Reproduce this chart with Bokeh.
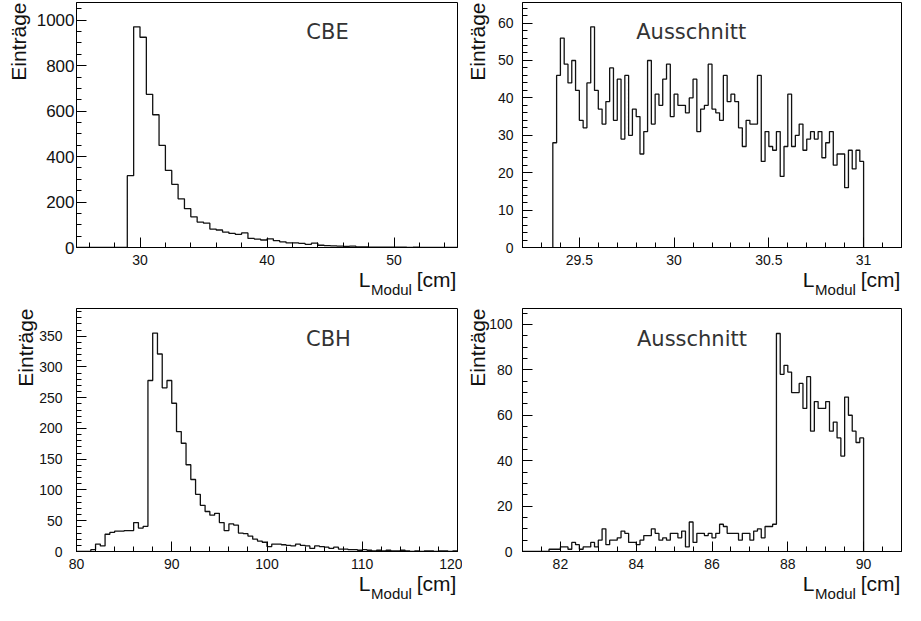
import numpy as np
from math import pi
from bokeh.plotting import figure
from bokeh.layouts import row, column
from bokeh.models import Label, SingleIntervalTicker, FixedTicker, Range1d, LinearAxis
from bokeh.embed import file_html
from bokeh.resources import INLINE

# ---------------- data ----------------
# CBE full distribution (bins of 0.5 cm starting at 25 cm)
cbe_start, cbe_width = 25.0, 0.5
cbe_counts = [0, 0, 0, 0, 0, 0, 0, 0,
              316, 971, 925, 674, 584, 449, 339, 278, 214, 171,
              135, 112, 107, 81, 77, 68, 62, 58, 64, 40,
              37, 33, 38, 30, 25, 20, 20, 18, 14, 19,
              10, 8, 7, 6, 5, 6, 3, 3, 2, 2,
              1, 1, 1, 1, 0, 1, 0, 0, 0, 0, 0, 0]

# CBE zoom (bins of 0.02 cm starting at 29.36 cm)
cbez_start, cbez_width = 29.36, 0.02
cbez_counts = [28, 46, 56, 49, 44, 50, 42, 34, 32, 44,
               59, 42, 37, 33, 39, 48, 34, 45, 29, 46,
               30, 37, 35, 25, 31, 50, 33, 41, 38, 45,
               49, 35, 41, 38, 38, 36, 40, 45, 31, 37,
               38, 49, 37, 36, 34, 46, 39, 41, 39, 32,
               27, 34, 33, 33, 46, 23, 31, 27, 26, 31,
               19, 27, 41, 27, 30, 33, 26, 29, 31, 29,
               31, 24, 28, 31, 22, 25, 25, 16, 26, 21,
               26, 23]

# CBH full distribution (bins of 0.5 cm starting at 80 cm)
cbh_start, cbh_width = 80.0, 0.5
cbh_counts = [0, 0, 0, 3, 12, 9, 28, 31, 33, 33,
              34, 34, 47, 38, 41, 278, 355, 321, 266, 278,
              241, 195, 176, 141, 117, 93, 75, 65, 59, 62,
              47, 34, 45, 43, 30, 29, 25, 20, 17, 15,
              8, 12, 12, 11, 10, 9, 12, 10, 9, 5,
              9, 8, 7, 5, 7, 4, 4, 3, 3, 2,
              3, 2, 1, 2, 1, 2, 1, 1, 2, 1,
              0, 1, 0, 1, 1, 0, 1, 1, 0, 1]

# CBH zoom (bins of 0.1 cm starting at 81 cm)
cbhz_start, cbhz_width = 81.0, 0.1
cbhz_counts = [0, 0, 0, 0, 0, 0, 0, 1, 1, 1,
               2, 2, 1, 4, 3, 1, 2, 2, 4, 2,
               5, 10, 3, 5, 5, 6, 9, 8, 4, 4,
               3, 5, 7, 7, 10, 8, 5, 6, 5, 8,
               8, 6, 9, 2, 13, 4, 8, 8, 7, 8,
               6, 8, 12, 11, 8, 8, 8, 5, 8, 8,
               5, 9, 10, 6, 11, 11, 12, 96, 78, 82,
               79, 70, 70, 74, 63, 77, 53, 66, 63, 63,
               66, 53, 57, 50, 42, 68, 60, 53, 48, 50]

panel_titles = ["CBE", "Ausschnitt", "CBH", "Ausschnitt"]
y_title = "Einträge"
x_title_main, x_title_sub, x_title_unit = "L", "Modul", "[cm]"

TICK_FONT = "Liberation Sans"
TITLE_FONT = "DejaVu Sans"


def label_axis(p, ticks, texts, size, standoff):
    """An extra tick-less axis below the frame that only carries text pieces."""
    ax = LinearAxis(ticker=FixedTicker(ticks=ticks, minor_ticks=[]),
                    major_label_overrides=dict(zip(ticks, texts)))
    ax.axis_line_color = None
    ax.major_tick_line_color = None
    ax.minor_tick_line_color = None
    ax.major_tick_out = 0
    ax.major_tick_in = 0
    ax.major_label_standoff = standoff
    ax.major_label_text_font = TICK_FONT
    ax.major_label_text_font_size = size
    ax.major_label_text_color = "#111111"
    p.add_layout(ax, "below")


def make_panel(start, width, counts, xr, yr, xint, xminor, yint, yminor,
               title, title_xy, w, h, bl, br, bt, bb, ylab_off,
               ytick_size="14px", ytick_standoff=8, overrides=None):
    p = figure(width=w, height=h, output_backend="svg", toolbar_location=None,
               x_range=Range1d(*xr), y_range=Range1d(*yr),
               min_border_left=bl, min_border_right=br,
               min_border_top=bt, min_border_bottom=bb)
    p.background_fill_color = "white"
    p.border_fill_color = "white"
    p.outline_line_color = "black"
    p.outline_line_width = 1
    p.grid.visible = False

    n = len(counts)
    edges = start + width * np.arange(n + 1)
    xs = [edges[0]] + list(edges[:-1]) + [edges[-1]]
    ys = [0] + list(counts) + [0]
    p.step(xs, ys, mode="after", line_color="#111111", line_width=1.3)

    for ax, tk in ((p.xaxis, SingleIntervalTicker(interval=xint, num_minor_ticks=xminor)),
                   (p.yaxis, SingleIntervalTicker(interval=yint, num_minor_ticks=yminor))):
        ax.ticker = tk
        ax.axis_line_color = "black"
        ax.major_tick_line_color = "black"
        ax.minor_tick_line_color = "black"
        ax.major_tick_in = 10
        ax.major_tick_out = 0
        ax.minor_tick_in = 5
        ax.minor_tick_out = 0
        ax.major_label_text_font = TICK_FONT
        ax.major_label_text_color = "#111111"
    p.xaxis.major_label_text_font_size = "14px"
    p.xaxis.major_label_standoff = 7
    p.yaxis.major_label_text_font_size = ytick_size
    p.yaxis.major_label_standoff = ytick_standoff
    if overrides:
        p.xaxis.major_label_overrides = overrides

    # panel title
    p.add_layout(Label(x=title_xy[0], y=title_xy[1], text=title,
                       text_font=TITLE_FONT, text_font_size="21px",
                       text_color="#333333", text_align="left",
                       text_baseline="alphabetic"))
    # y title (rotated, top aligned) in the left side panel
    p.add_layout(Label(x=xr[0], y=yr[1], x_offset=-ylab_off, text=y_title,
                       angle=pi / 2, text_align="right", text_baseline="top",
                       text_font=TICK_FONT, text_font_size="21px",
                       text_color="#111111"), "left")

    # x title  L_Modul [cm]  (text pieces carried by tick-less axes)
    fw = w - bl - br
    per_px = (xr[1] - xr[0]) / fw
    x_unit = round(xr[1] - 21 * per_px, 6)
    x_main = round(xr[1] - 93 * per_px, 6)
    x_sub = round(xr[1] - 66 * per_px, 6)
    label_axis(p, [x_main, x_unit], [x_title_main, x_title_unit], "21px", 0)
    label_axis(p, [x_sub], [x_title_sub], "15px", -13)
    return p


p1 = make_panel(cbe_start, cbe_width, cbe_counts, (25, 55), (0, 1078), 10, 5, 200, 4,
                panel_titles[0], (43.1, 948), 462, 300, 76, 5, 2, 52, 70,
                ytick_size="17px", ytick_standoff=2)
p2 = make_panel(cbez_start, cbez_width, cbez_counts, (29.2, 31.2), (0, 65.5), 0.5, 5, 10, 5,
                panel_titles[1], (29.80, 57.5), 443, 300, 60, 4, 2, 52, 57,
                ytick_standoff=9, overrides={30: "30", 31: "31"})
p3 = make_panel(cbh_start, cbh_width, cbh_counts, (80, 120), (0, 395), 10, 5, 50, 5,
                panel_titles[2], (104.1, 346), 462, 304, 76, 5, 8, 52, 63,
                ytick_standoff=14)
p4 = make_panel(cbhz_start, cbhz_width, cbhz_counts, (81, 91), (0, 107), 2, 4, 20, 4,
                panel_titles[3], (84.02, 93.5), 443, 304, 60, 4, 8, 52, 57,
                ytick_standoff=10)

layout = column(row(p1, p2), row(p3, p4))
open("out.html", "w").write(file_html(layout, INLINE))
